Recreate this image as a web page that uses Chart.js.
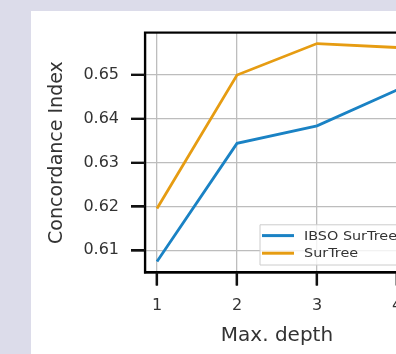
<!DOCTYPE html>
<html>
<head>
<meta charset="utf-8">
<script src="https://cdn.jsdelivr.net/npm/chart.js@4/dist/chart.umd.min.js"></script>
<style>
  html, body { margin:0; padding:0; width:396px; height:354px; overflow:hidden; background:#dcdcea; }
  #panel { position:absolute; left:31px; top:11px; width:400px; height:343px; background:#ffffff; }
  #wrap { position:absolute; left:0; top:0; width:400px; height:343px; }
</style>
</head>
<body>
<div id="panel"><div id="wrap"><canvas id="c" width="400" height="343"></canvas></div></div>
<script>
const depths = [1, 2, 3, 4];
const ibsoSurTree = [0.6074, 0.6344, 0.6384, 0.6466];
const surTree = [0.6195, 0.6500, 0.6572, 0.6563];
const xTickValues = [1, 2, 3, 4];
const yTickValues = [0.61, 0.62, 0.63, 0.64, 0.65];
const seriesLabels = ['IBSO SurTree', 'SurTree'];
const seriesColors = ['#1a82c4', '#e69c12'];

const textColor = '#333333';
const FONT = 'DejaVu Sans';

const frame = {
  id: 'frame',
  afterDraw(chart) {
    const a = chart.chartArea, ctx = chart.ctx;
    ctx.save();
    // legend
    const fs = 12;
    ctx.font = fs + 'px "' + FONT + '", sans-serif';
    const refW = ctx.measureText(seriesLabels[0]).width;
    const stretch = 93 / refW;
    const x0 = a.left + 115, bottom = a.bottom - 7.5;
    const rowH = 17.6, padX = 2, lineLen = 32, gap = 10;
    let tw = 0;
    chart.data.datasets.forEach(d => { tw = Math.max(tw, ctx.measureText(d.label).width * stretch); });
    const w = padX * 2 + lineLen + gap + tw + 3, h = rowH * chart.data.datasets.length + 5;
    const y0 = bottom - h;
    ctx.fillStyle = 'rgba(255,255,255,0.8)';
    ctx.strokeStyle = '#cccccc';
    ctx.lineWidth = 1;
    ctx.beginPath();
    ctx.rect(x0, y0, w, h);
    ctx.fill(); ctx.stroke();
    chart.data.datasets.forEach((d, i) => {
      const cy = y0 + 2 + rowH * (i + 0.5);
      ctx.strokeStyle = d.borderColor; ctx.lineWidth = 3;
      ctx.beginPath(); ctx.moveTo(x0 + padX, cy); ctx.lineTo(x0 + padX + lineLen, cy); ctx.stroke();
      ctx.save();
      ctx.translate(x0 + padX + lineLen + gap, cy + 1);
      ctx.scale(stretch, 1);
      ctx.fillStyle = textColor; ctx.textBaseline = 'middle'; ctx.textAlign = 'left';
      ctx.fillText(d.label, 0, 0);
      ctx.restore();
    });
    // spines
    ctx.strokeStyle = '#000'; ctx.lineWidth = 2.2;
    ctx.strokeRect(a.left, a.top, a.right - a.left, a.bottom - a.top);
    // outward tick marks
    const xs = chart.scales.x, ys = chart.scales.y;
    ctx.lineWidth = 2.2;
    ctx.strokeStyle = '#111111';
    ctx.beginPath();
    xs.ticks.forEach(t => {
      const px = Math.round(xs.getPixelForValue(t.value));
      ctx.moveTo(px, a.bottom); ctx.lineTo(px, a.bottom + 13);
    });
    ys.ticks.forEach(t => {
      const py = Math.round(ys.getPixelForValue(t.value));
      ctx.moveTo(a.left, py); ctx.lineTo(a.left - 14, py);
    });
    ctx.stroke();
    ctx.restore();
  }
};

new Chart(document.getElementById('c'), {
  type: 'line',
  data: {
    datasets: [
      { label: seriesLabels[0], data: depths.map((d, i) => ({x: d, y: ibsoSurTree[i]})), borderColor: seriesColors[0], backgroundColor: seriesColors[0], borderWidth: 2.8, pointRadius: 0, tension: 0 },
      { label: seriesLabels[1], data: depths.map((d, i) => ({x: d, y: surTree[i]})), borderColor: seriesColors[1], backgroundColor: seriesColors[1], borderWidth: 2.8, pointRadius: 0, tension: 0 }
    ]
  },
  options: {
    responsive: false,
    animation: false,
    devicePixelRatio: 1,
    layout: { padding: { top: 18, right: 22, left: 0, bottom: 0 } },
    plugins: { legend: { display: false }, tooltip: { enabled: false } },
    scales: {
      x: {
        type: 'linear', min: 0.85, max: 4.15,
        afterBuildTicks: s => { s.ticks = xTickValues.map(v => ({value: v})); },
        afterFit: s => { s.height = 81.5; },
        grid: { color: '#bdbdbd', lineWidth: 1.3, drawTicks: true, tickColor: '#000000', tickWidth: 2, tickLength: 13 },
        border: { display: true, color: '#000000', width: 2.2 },
        ticks: { color: textColor, font: { family: FONT, size: 16 }, padding: 11, callback: v => String(v) },
        title: { display: true, text: 'Max. depth', color: textColor, font: { family: FONT, size: 20 }, padding: { top: 6, bottom: 6 } }
      },
      y: {
        type: 'linear', min: 0.6049, max: 0.6597,
        afterBuildTicks: s => { s.ticks = yTickValues.map(v => ({value: v})); },
        afterFit: s => { s.width = 114; },
        grid: { color: '#bdbdbd', lineWidth: 1.3, drawTicks: true, tickColor: '#000000', tickWidth: 2, tickLength: 14 },
        border: { display: true, color: '#000000', width: 2.2 },
        ticks: { color: textColor, font: { family: FONT, size: 16 }, padding: 12, callback: v => v.toFixed(2) },
        title: { display: true, text: 'Concordance Index', color: textColor, font: { family: FONT, size: 19 }, padding: { top: 15, bottom: 15 } }
      }
    }
  },
  plugins: [frame]
});
</script>
</body>
</html>
